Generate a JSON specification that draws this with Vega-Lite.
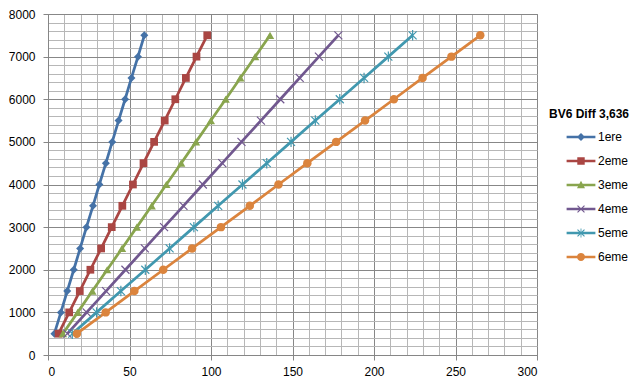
{
  "$schema": "https://vega.github.io/schema/vega-lite/v6.json",
  "autosize": {"type": "none"},
  "padding": {"left": 48, "top": 14, "right": 105, "bottom": 34},
  "width": 489,
  "height": 341,
  "background": "white",
  "config": {
    "view": {"stroke": "#868686", "strokeWidth": 1},
    "font": "Liberation Sans",
    "axis": {"labelFont": "Liberation Sans", "labelFontSize": 12, "labelColor": "#000000", "domainColor": "#868686", "tickColor": "#868686", "tickSize": 5, "title": null}
  },
  "data": {"values": [
    {"gear": "1ere", "rpm": 500, "speed": 3.9}, {"gear": "1ere", "rpm": 1000, "speed": 7.9}, {"gear": "1ere", "rpm": 1500, "speed": 11.8}, {"gear": "1ere", "rpm": 2000, "speed": 15.8}, {"gear": "1ere", "rpm": 2500, "speed": 19.7}, {"gear": "1ere", "rpm": 3000, "speed": 23.6}, {"gear": "1ere", "rpm": 3500, "speed": 27.6}, {"gear": "1ere", "rpm": 4000, "speed": 31.5}, {"gear": "1ere", "rpm": 4500, "speed": 35.5}, {"gear": "1ere", "rpm": 5000, "speed": 39.4}, {"gear": "1ere", "rpm": 5500, "speed": 43.3}, {"gear": "1ere", "rpm": 6000, "speed": 47.3}, {"gear": "1ere", "rpm": 6500, "speed": 51.2}, {"gear": "1ere", "rpm": 7000, "speed": 55.2}, {"gear": "1ere", "rpm": 7500, "speed": 59.1},
    {"gear": "2eme", "rpm": 500, "speed": 6.5}, {"gear": "2eme", "rpm": 1000, "speed": 13.0}, {"gear": "2eme", "rpm": 1500, "speed": 19.5}, {"gear": "2eme", "rpm": 2000, "speed": 26.0}, {"gear": "2eme", "rpm": 2500, "speed": 32.6}, {"gear": "2eme", "rpm": 3000, "speed": 39.1}, {"gear": "2eme", "rpm": 3500, "speed": 45.6}, {"gear": "2eme", "rpm": 4000, "speed": 52.1}, {"gear": "2eme", "rpm": 4500, "speed": 58.6}, {"gear": "2eme", "rpm": 5000, "speed": 65.1}, {"gear": "2eme", "rpm": 5500, "speed": 71.6}, {"gear": "2eme", "rpm": 6000, "speed": 78.1}, {"gear": "2eme", "rpm": 6500, "speed": 84.6}, {"gear": "2eme", "rpm": 7000, "speed": 91.1}, {"gear": "2eme", "rpm": 7500, "speed": 97.7},
    {"gear": "3eme", "rpm": 500, "speed": 9.1}, {"gear": "3eme", "rpm": 1000, "speed": 18.2}, {"gear": "3eme", "rpm": 1500, "speed": 27.2}, {"gear": "3eme", "rpm": 2000, "speed": 36.3}, {"gear": "3eme", "rpm": 2500, "speed": 45.4}, {"gear": "3eme", "rpm": 3000, "speed": 54.5}, {"gear": "3eme", "rpm": 3500, "speed": 63.6}, {"gear": "3eme", "rpm": 4000, "speed": 72.6}, {"gear": "3eme", "rpm": 4500, "speed": 81.7}, {"gear": "3eme", "rpm": 5000, "speed": 90.8}, {"gear": "3eme", "rpm": 5500, "speed": 99.9}, {"gear": "3eme", "rpm": 6000, "speed": 109.0}, {"gear": "3eme", "rpm": 6500, "speed": 118.0}, {"gear": "3eme", "rpm": 7000, "speed": 127.1}, {"gear": "3eme", "rpm": 7500, "speed": 136.2},
    {"gear": "4eme", "rpm": 500, "speed": 11.9}, {"gear": "4eme", "rpm": 1000, "speed": 23.7}, {"gear": "4eme", "rpm": 1500, "speed": 35.6}, {"gear": "4eme", "rpm": 2000, "speed": 47.5}, {"gear": "4eme", "rpm": 2500, "speed": 59.4}, {"gear": "4eme", "rpm": 3000, "speed": 71.2}, {"gear": "4eme", "rpm": 3500, "speed": 83.1}, {"gear": "4eme", "rpm": 4000, "speed": 95.0}, {"gear": "4eme", "rpm": 4500, "speed": 106.9}, {"gear": "4eme", "rpm": 5000, "speed": 118.7}, {"gear": "4eme", "rpm": 5500, "speed": 130.6}, {"gear": "4eme", "rpm": 6000, "speed": 142.5}, {"gear": "4eme", "rpm": 6500, "speed": 154.4}, {"gear": "4eme", "rpm": 7000, "speed": 166.2}, {"gear": "4eme", "rpm": 7500, "speed": 178.1},
    {"gear": "5eme", "rpm": 500, "speed": 14.9}, {"gear": "5eme", "rpm": 1000, "speed": 29.8}, {"gear": "5eme", "rpm": 1500, "speed": 44.7}, {"gear": "5eme", "rpm": 2000, "speed": 59.7}, {"gear": "5eme", "rpm": 2500, "speed": 74.6}, {"gear": "5eme", "rpm": 3000, "speed": 89.5}, {"gear": "5eme", "rpm": 3500, "speed": 104.4}, {"gear": "5eme", "rpm": 4000, "speed": 119.3}, {"gear": "5eme", "rpm": 4500, "speed": 134.2}, {"gear": "5eme", "rpm": 5000, "speed": 149.1}, {"gear": "5eme", "rpm": 5500, "speed": 164.0}, {"gear": "5eme", "rpm": 6000, "speed": 179.0}, {"gear": "5eme", "rpm": 6500, "speed": 193.9}, {"gear": "5eme", "rpm": 7000, "speed": 208.8}, {"gear": "5eme", "rpm": 7500, "speed": 223.7},
    {"gear": "6eme", "rpm": 500, "speed": 17.7}, {"gear": "6eme", "rpm": 1000, "speed": 35.4}, {"gear": "6eme", "rpm": 1500, "speed": 53.0}, {"gear": "6eme", "rpm": 2000, "speed": 70.7}, {"gear": "6eme", "rpm": 2500, "speed": 88.4}, {"gear": "6eme", "rpm": 3000, "speed": 106.1}, {"gear": "6eme", "rpm": 3500, "speed": 123.8}, {"gear": "6eme", "rpm": 4000, "speed": 141.4}, {"gear": "6eme", "rpm": 4500, "speed": 159.1}, {"gear": "6eme", "rpm": 5000, "speed": 176.8}, {"gear": "6eme", "rpm": 5500, "speed": 194.5}, {"gear": "6eme", "rpm": 6000, "speed": 212.2}, {"gear": "6eme", "rpm": 6500, "speed": 229.8}, {"gear": "6eme", "rpm": 7000, "speed": 247.5}, {"gear": "6eme", "rpm": 7500, "speed": 265.2}
  ]},
  "resolve": {"axis": {"x": "independent", "y": "independent"}},
  "layer": [
    {
      "transform": [{"filter": "false"}],
      "mark": {"type": "point", "filled": true, "opacity": 1, "fillOpacity": 1},
      "encoding": {
        "x": {"field": "speed", "type": "quantitative", "scale": {"domain": [0, 300], "nice": false},
              "axis": {"orient": "bottom", "values": [10,20,30,40,60,70,80,90,110,120,130,140,160,170,180,190,210,220,230,240,260,270,280,290], "grid": true, "gridColor": "#b7b7b7", "gridWidth": 1, "labels": false, "ticks": false, "domain": false}},
        "y": {"field": "rpm", "type": "quantitative", "scale": {"domain": [0, 8000], "nice": false},
              "axis": {"orient": "left", "values": [200,400,600,800,1200,1400,1600,1800,2200,2400,2600,2800,3200,3400,3600,3800,4200,4400,4600,4800,5200,5400,5600,5800,6200,6400,6600,6800,7200,7400,7600,7800], "grid": true, "gridColor": "#b7b7b7", "gridWidth": 1, "labels": false, "ticks": false, "domain": false}},
        "color": {"field": "gear", "type": "nominal",
                  "scale": {"domain": ["1ere","2eme","3eme","4eme","5eme","6eme"], "range": ["#4572A7","#AA4643","#89A54E","#71588F","#4198AF","#DB843D"]},
                  "legend": {"title": "BV6 Diff 3,636", "orient": "none", "legendX": 501, "legendY": 95,
                             "titleFont": "Liberation Sans", "titleFontSize": 12, "titleFontWeight": "bold", "titleColor": "#000000", "titlePadding": 10,
                             "labelFont": "Liberation Sans", "labelFontSize": 12, "labelColor": "#000000",
                             "symbolSize": 144, "symbolOffset": 26, "labelOffset": 11, "rowPadding": 12, "symbolOpacity": 1, "symbolStrokeWidth": 0}},
        "shape": {"field": "gear", "type": "nominal",
                  "scale": {"domain": ["1ere","2eme","3eme","4eme","5eme","6eme"], "range": [
                    "M-2.4,-0.22H2.4V0.22H-2.4ZM0,-0.67L0.67,0L0,0.67L-0.67,0Z",
                    "M-2.4,-0.22H2.4V0.22H-2.4ZM-0.62,-0.62H0.62V0.62H-0.62Z",
                    "M-2.4,-0.22H2.4V0.22H-2.4ZM0,-0.7L0.67,0.55L-0.67,0.55Z",
                    "M-2.4,-0.22H2.4V0.22H-2.4ZM-0.516,-0.644L0.644,0.516L0.516,0.644L-0.644,-0.516ZM-0.644,0.516L0.516,-0.644L0.644,-0.516L-0.516,0.644Z",
                    "M-2.4,-0.22H2.4V0.22H-2.4ZM-0.516,-0.644L0.644,0.516L0.516,0.644L-0.644,-0.516ZM-0.644,0.516L0.516,-0.644L0.644,-0.516L-0.516,0.644ZM-0.07,-0.75H0.07V0.75H-0.07Z",
                    "M-2.4,-0.22H2.4V0.22H-2.4ZM0.67,0A0.67,0.67 0 1 1 -0.67,0A0.67,0.67 0 1 1 0.67,0Z"
                  ]}}
      }
    },
    {
      "mark": {"type": "line", "strokeWidth": 2.75},
      "encoding": {
        "x": {"field": "speed", "type": "quantitative", "scale": {"domain": [0, 300], "nice": false},
              "axis": {"orient": "bottom", "values": [0,50,100,150,200,250,300], "grid": true, "gridColor": "#878787", "gridWidth": 1, "labelPadding": 6}},
        "y": {"field": "rpm", "type": "quantitative", "scale": {"domain": [0, 8000], "nice": false},
              "axis": {"orient": "left", "values": [0,1000,2000,3000,4000,5000,6000,7000,8000], "format": "d", "grid": true, "gridColor": "#878787", "gridWidth": 1, "labelPadding": 8}},
        "color": {"field": "gear", "type": "nominal"},
        "order": {"field": "rpm", "type": "quantitative"}
      }
    },
    {
      "transform": [{"filter": "datum.gear == '1ere'"}],
      "mark": {"type": "point", "shape": "diamond", "filled": true, "opacity": 1, "size": 64, "color": "#4572A7"},
      "encoding": {"x": {"field": "speed", "type": "quantitative", "axis": null}, "y": {"field": "rpm", "type": "quantitative", "axis": null}}
    },
    {
      "transform": [{"filter": "datum.gear == '2eme'"}],
      "mark": {"type": "point", "shape": "square", "filled": true, "opacity": 1, "size": 60, "color": "#AA4643"},
      "encoding": {"x": {"field": "speed", "type": "quantitative", "axis": null}, "y": {"field": "rpm", "type": "quantitative", "axis": null}}
    },
    {
      "transform": [{"filter": "datum.gear == '3eme'"}],
      "mark": {"type": "point", "shape": "triangle-up", "filled": true, "opacity": 1, "size": 70, "color": "#89A54E"},
      "encoding": {"x": {"field": "speed", "type": "quantitative", "axis": null}, "y": {"field": "rpm", "type": "quantitative", "axis": null}}
    },
    {
      "transform": [{"filter": "datum.gear == '4eme'"}],
      "mark": {"type": "point", "shape": "M-1,-1L1,1M-1,1L1,-1", "filled": false, "opacity": 1, "size": 64, "strokeWidth": 1.2, "color": "#71588F"},
      "encoding": {"x": {"field": "speed", "type": "quantitative", "axis": null}, "y": {"field": "rpm", "type": "quantitative", "axis": null}}
    },
    {
      "transform": [{"filter": "datum.gear == '5eme'"}],
      "mark": {"type": "point", "shape": "M-1,-1L1,1M-1,1L1,-1M0,-1.3V1.3", "filled": false, "opacity": 1, "size": 64, "strokeWidth": 1.2, "color": "#4198AF"},
      "encoding": {"x": {"field": "speed", "type": "quantitative", "axis": null}, "y": {"field": "rpm", "type": "quantitative", "axis": null}}
    },
    {
      "transform": [{"filter": "datum.gear == '6eme'"}],
      "mark": {"type": "point", "shape": "circle", "filled": true, "opacity": 1, "size": 72, "color": "#DB843D"},
      "encoding": {"x": {"field": "speed", "type": "quantitative", "axis": null}, "y": {"field": "rpm", "type": "quantitative", "axis": null}}
    }
  ]
}
